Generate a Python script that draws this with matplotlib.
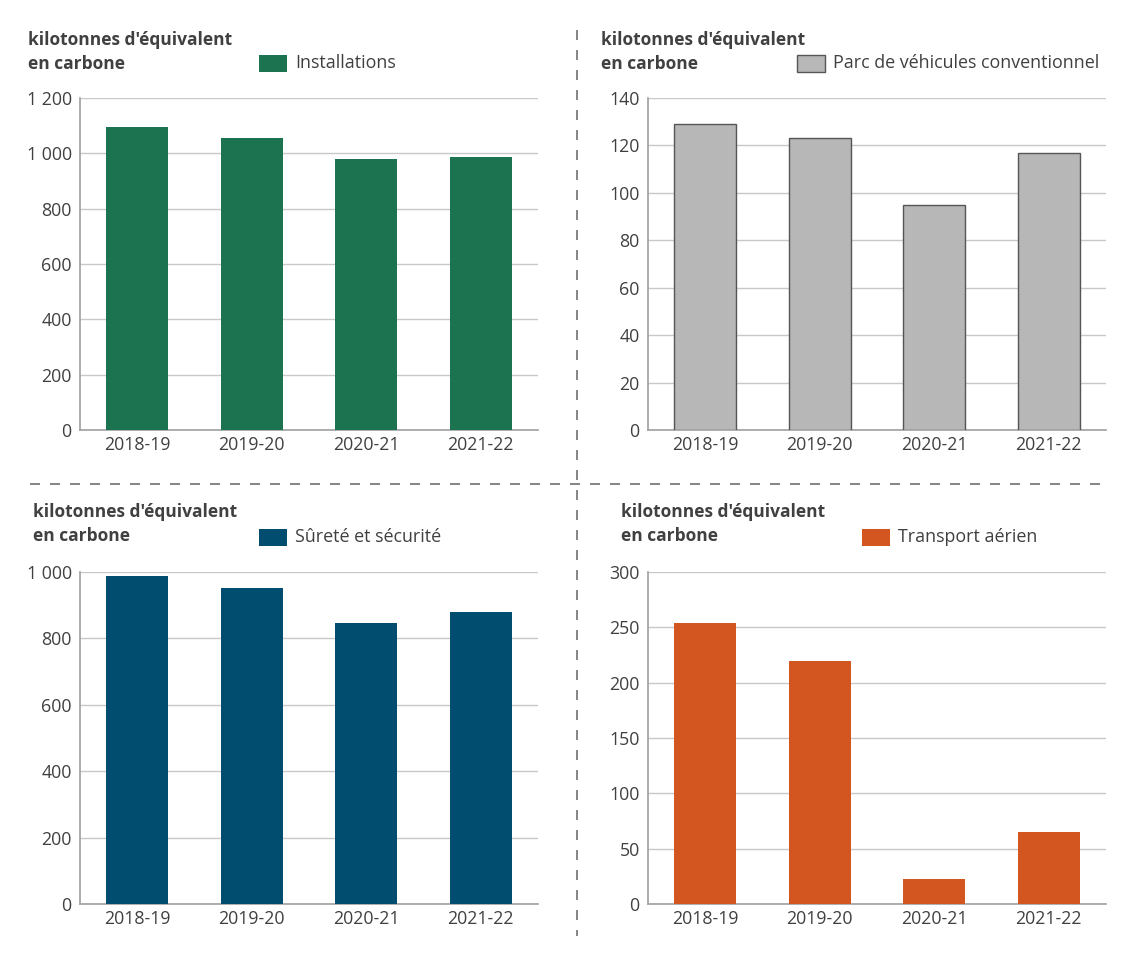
import matplotlib
matplotlib.use("Agg")
import matplotlib.pyplot as plt
from matplotlib.patches import Rectangle
from matplotlib.lines import Line2D
from matplotlib.ticker import FuncFormatter

plt.rcParams['font.family'] = ['Open Sans', 'DejaVu Sans']

years = ["2018-19", "2019-20", "2020-21", "2021-22"]
installations = [1095, 1057, 979, 987]
vehicules = [129, 123, 95, 117]
surete = [989, 953, 846, 881]
aerien = [254, 220, 23, 65]

W, H = 1140, 956
fig = plt.figure(figsize=(W/100, H/100), dpi=100)

def fx(px): return px / W
def fy(py): return 1 - py / H

panels = [
    dict(data=installations, color="#1B7350", edge="#1B7350", name="Installations",
         box=(80, 98, 538, 430), ymax=1200, step=200, leg=(259, 55), title=(28, 40)),
    dict(data=vehicules, color="#B7B7B7", edge="#555555", name="Parc de véhicules conventionnel",
         box=(648, 98, 1106, 430), ymax=140, step=20, leg=(797, 55), title=(601, 40)),
    dict(data=surete, color="#004D70", edge="#004D70", name="Sûreté et sécurité",
         box=(80, 572, 538, 904), ymax=1000, step=200, leg=(259, 529), title=(33, 512)),
    dict(data=aerien, color="#D35621", edge="#D35621", name="Transport aérien",
         box=(648, 572, 1106, 904), ymax=300, step=50, leg=(862, 529), title=(621, 512)),
]

def fmt(v, pos):
    v = int(round(v))
    s = f"{v:,}".replace(",", " ")
    return s

for p in panels:
    x0, y0, x1, y1 = p["box"]
    ax = fig.add_axes([fx(x0), fy(y1), fx(x1) - fx(x0), fy(y0) - fy(y1)])
    ax.bar(range(len(years)), p["data"], width=0.54, color=p["color"],
           edgecolor=p["edge"], linewidth=1.0 if p["edge"] != p["color"] else 0, zorder=3)
    ax.set_xlim(-0.5, len(years) - 0.5)
    ax.set_ylim(0, p["ymax"])
    ax.set_yticks(range(0, p["ymax"] + 1, p["step"]))
    ax.yaxis.set_major_formatter(FuncFormatter(fmt))
    ax.set_xticks(range(len(years)))
    ax.set_xticklabels(years)
    ax.grid(axis="y", color="#C8C8C8", linewidth=1, zorder=0)
    for s in ["top", "right"]:
        ax.spines[s].set_visible(False)
    ax.spines["left"].set_color("#A0A0A0")
    ax.spines["bottom"].set_color("#A0A0A0")
    ax.spines["left"].set_linewidth(1.2)
    ax.spines["bottom"].set_linewidth(1.2)
    ax.tick_params(axis="both", length=0, labelsize=12.8, colors="#404040", pad=6)
    ax.tick_params(axis="x", pad=4)
    # title
    tx, ty = p["title"]
    fig.text(fx(tx), fy(ty), "kilotonnes d'équivalent", fontsize=12.5, fontweight="bold",
             color="#404040", va="center", ha="left")
    fig.text(fx(tx), fy(ty + 24), "en carbone", fontsize=12.5, fontweight="bold",
             color="#404040", va="center", ha="left")
    # legend
    lx, ly = p["leg"]
    fig.patches.append(Rectangle((fx(lx), fy(ly + 17)), fx(28), 17 / H, transform=fig.transFigure,
                                 facecolor=p["color"], edgecolor=p["edge"],
                                 linewidth=1.0 if p["edge"] != p["color"] else 0))
    fig.text(fx(lx + 36), fy(ly + 8.5), p["name"], fontsize=12.9, color="#404040",
             va="center", ha="left")

# separators
fig.add_artist(Line2D([fx(577), fx(577)], [fy(30), fy(936)], transform=fig.transFigure,
                      color="#707070", linewidth=1.2, linestyle=(0, (6, 6))))
fig.add_artist(Line2D([fx(30), fx(1106)], [fy(484), fy(484)], transform=fig.transFigure,
                      color="#707070", linewidth=1.2, linestyle=(0, (6, 6))))

fig.savefig("out.png", dpi=100, facecolor="white")
